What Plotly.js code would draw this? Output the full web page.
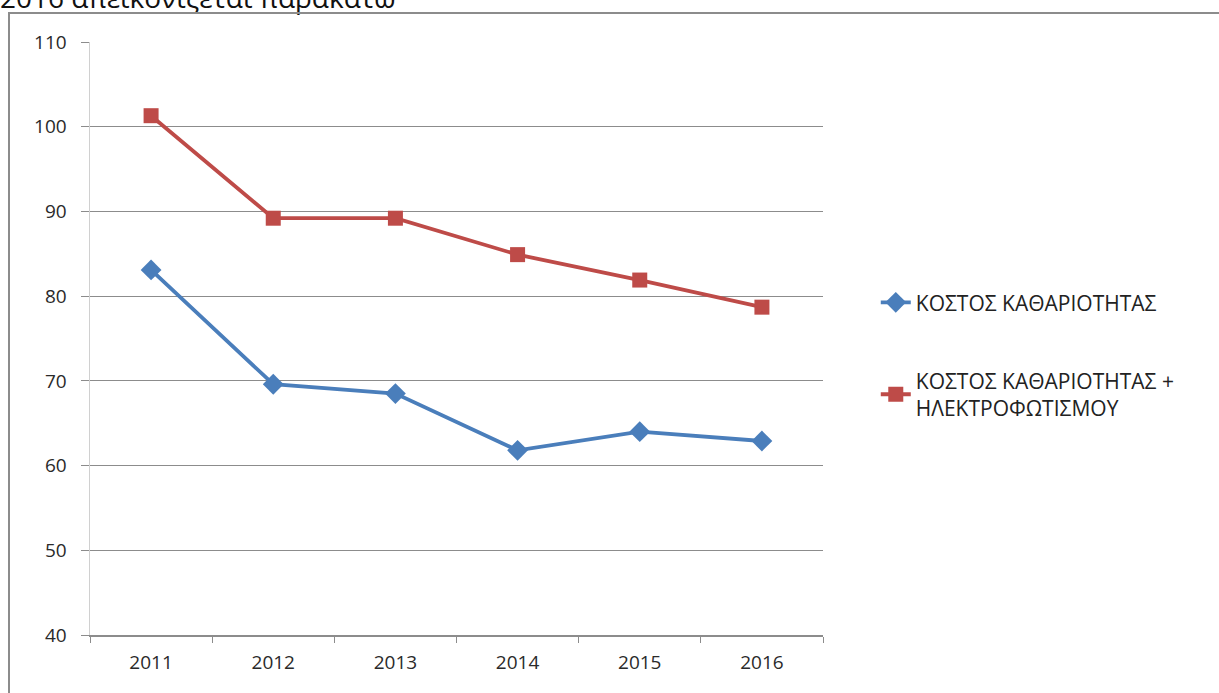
<!DOCTYPE html>
<html>
<head>
<meta charset="utf-8">
<script src="https://cdn.plot.ly/plotly-3.0.1.min.js"></script>
<style>
  html, body { margin: 0; padding: 0; background: #fff; width: 1219px; height: 693px; overflow: hidden; position: relative; }
  #caption { position: absolute; left: 0px; top: -22px; font-family: "Open Sans", "DejaVu Sans", sans-serif; font-size: 28px; color: #111; white-space: nowrap; }
  #frame { position: absolute; left: 8px; top: 12px; width: 1215px; height: 690px; border: 2px solid #8c8c8c; box-sizing: border-box; }
  #chart { position: absolute; left: 0; top: 0; width: 1219px; height: 693px; }
</style>
</head>
<body>
<div id="caption">2016 απεικονίζεται παρακάτω</div>
<div id="frame"></div>
<div id="chart"></div>
<script>
const years = ["2011", "2012", "2013", "2014", "2015", "2016"];
const cleaningCost = [83.1, 69.6, 68.5, 61.8, 64.0, 62.9];
const cleaningLightingCost = [101.3, 89.2, 89.2, 84.9, 81.9, 78.7];
const seriesNames = ["ΚΟΣΤΟΣ ΚΑΘΑΡΙΟΤΗΤΑΣ", "ΚΟΣΤΟΣ ΚΑΘΑΡΙΟΤΗΤΑΣ +<br>ΗΛΕΚΤΡΟΦΩΤΙΣΜΟΥ"];
const yTicks = [40, 50, 60, 70, 80, 90, 100, 110];

const traces = [
  {
    x: years, y: cleaningCost, name: seriesNames[0], type: "scatter", mode: "lines+markers",
    legendgroup: "a",
    line: { color: "#4a7ebb", width: 3.8 },
    marker: { symbol: "diamond", size: 16, color: "#4a7ebb" }
  },
  {
    x: years, y: cleaningLightingCost, name: seriesNames[1], type: "scatter", mode: "lines+markers",
    legendgroup: "b",
    line: { color: "#be4b48", width: 3.8 },
    marker: { symbol: "square", size: 15, color: "#be4b48" }
  }
];

const layout = {
  width: 1219, height: 693,
  paper_bgcolor: "rgba(0,0,0,0)", plot_bgcolor: "rgba(0,0,0,0)",
  margin: { l: 90, r: 396, t: 42, b: 58 },
  font: { family: "Open Sans, DejaVu Sans, sans-serif", color: "#2a2a2a", size: 19 },
  showlegend: true,
  legend: {
    x: 1.072, y: 0.595, xanchor: "left", yanchor: "top",
    font: { size: 21, color: "#222" },
    traceorder: "grouped", tracegroupgap: 48,
    bgcolor: "rgba(0,0,0,0)"
  },
  xaxis: {
    type: "category", range: [-0.5, 5.5],
    showgrid: false, zeroline: false,
    showline: true, linecolor: "#8c8c8c", linewidth: 1.5,
    ticks: "outside", tickson: "boundaries", ticklen: 6, tickcolor: "#8c8c8c",
    ticklabelstandoff: 10,
    tickfont: { size: 19, color: "#2a2a2a" }
  },
  yaxis: {
    range: [40, 110], tickvals: yTicks, ticktext: yTicks.map(String),
    showgrid: true, gridcolor: "#8c8c8c", gridwidth: 1, zeroline: false,
    showline: true, linecolor: "#d0d0d0", linewidth: 1.5,
    ticks: "outside", ticklen: 8, tickcolor: "#8c8c8c",
    ticklabelstandoff: 10,
    tickfont: { size: 19, color: "#2a2a2a" }
  }
};

Plotly.newPlot("chart", traces, layout, { displayModeBar: false, staticPlot: true });
</script>
</body>
</html>
